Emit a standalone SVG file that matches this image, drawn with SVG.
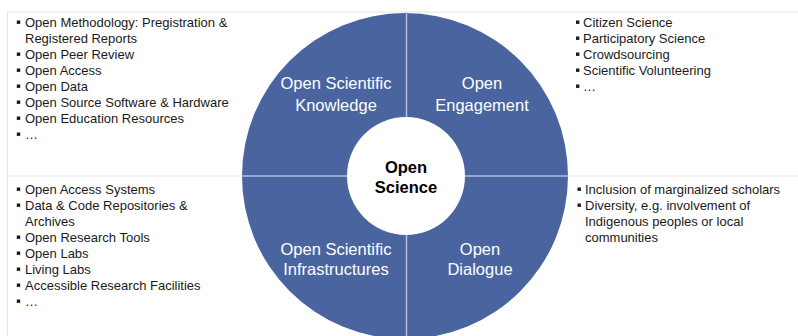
<svg xmlns="http://www.w3.org/2000/svg" width="798" height="336" viewBox="0 0 798 336">
<style>
.frame{stroke:#e6e6e6;stroke-width:1.2;fill:none}
.list{font-family:"Liberation Sans",Arial,sans-serif;font-size:13px;fill:#1a1a1a}
.b{fill:#1a1a1a}
.lbl{font-family:"Liberation Sans",Arial,sans-serif;font-size:16.5px;fill:#ffffff;text-anchor:middle}
.ctr{font-family:"Liberation Sans",Arial,sans-serif;font-size:16.5px;font-weight:bold;fill:#000;text-anchor:middle}
.div{stroke:#b4c0dc;stroke-width:1.5}
</style>
<rect width="798" height="336" fill="#ffffff"/>
<g id="frame">
<line class="frame" x1="7.5" y1="12" x2="798" y2="12"/>
<line class="frame" x1="7.5" y1="12" x2="7.5" y2="336"/>
<line class="frame" x1="7.5" y1="176" x2="798" y2="176"/>
</g>
<g id="circle">
<circle cx="405" cy="176" r="163" fill="#4a64a0"/>
</g>
<g id="connectors">
<line class="div" x1="406.5" y1="12" x2="406.5" y2="336"/>
<line class="div" x1="242" y1="176" x2="568" y2="176"/>
</g>
<g id="open-science">
<circle cx="406" cy="176" r="59" fill="#ffffff"/>
<text class="ctr" x="406" y="173">Open</text>
<text class="ctr" x="406" y="193">Science</text>
</g>
<g id="q-knowledge">
<text class="lbl" x="336" y="89">Open Scientific</text>
<text class="lbl" x="336" y="111">Knowledge</text>
</g>
<g id="q-engagement">
<text class="lbl" x="482" y="89">Open</text>
<text class="lbl" x="482" y="111">Engagement</text>
</g>
<g id="q-infrastructures">
<text class="lbl" x="336" y="255">Open Scientific</text>
<text class="lbl" x="336" y="275">Infrastructures</text>
</g>
<g id="q-dialogue">
<text class="lbl" x="480" y="255">Open</text>
<text class="lbl" x="480" y="275">Dialogue</text>
</g>
<g id="list-knowledge">
<rect class="b" x="16.8" y="20.5" width="3.4" height="3.4"/>
<text class="list" x="25" y="27">Open Methodology: Pregistration &amp;</text>
<text class="list" x="25" y="43">Registered Reports</text>
<rect class="b" x="16.8" y="52.5" width="3.4" height="3.4"/>
<text class="list" x="25" y="59">Open Peer Review</text>
<rect class="b" x="16.8" y="68.5" width="3.4" height="3.4"/>
<text class="list" x="25" y="75">Open Access</text>
<rect class="b" x="16.8" y="84.5" width="3.4" height="3.4"/>
<text class="list" x="25" y="91">Open Data</text>
<rect class="b" x="16.8" y="100.5" width="3.4" height="3.4"/>
<text class="list" x="25" y="107">Open Source Software &amp; Hardware</text>
<rect class="b" x="16.8" y="116.5" width="3.4" height="3.4"/>
<text class="list" x="25" y="123">Open Education Resources</text>
<rect class="b" x="16.8" y="132.5" width="3.4" height="3.4"/>
<text class="list" x="25" y="139">…</text>
</g>
<g id="list-engagement">
<rect class="b" x="576" y="20.5" width="3.4" height="3.4"/>
<text class="list" x="583" y="27">Citizen Science</text>
<rect class="b" x="576" y="36.5" width="3.4" height="3.4"/>
<text class="list" x="583" y="43">Participatory Science</text>
<rect class="b" x="576" y="52.5" width="3.4" height="3.4"/>
<text class="list" x="583" y="59">Crowdsourcing</text>
<rect class="b" x="576" y="68.5" width="3.4" height="3.4"/>
<text class="list" x="583" y="75">Scientific Volunteering</text>
<rect class="b" x="576" y="84.5" width="3.4" height="3.4"/>
<text class="list" x="583" y="91">…</text>
</g>
<g id="list-infrastructures">
<rect class="b" x="16.8" y="187.5" width="3.4" height="3.4"/>
<text class="list" x="25" y="194">Open Access Systems</text>
<rect class="b" x="16.8" y="203.5" width="3.4" height="3.4"/>
<text class="list" x="25" y="210">Data &amp; Code Repositories &amp;</text>
<text class="list" x="25" y="226">Archives</text>
<rect class="b" x="16.8" y="235.5" width="3.4" height="3.4"/>
<text class="list" x="25" y="242">Open Research Tools</text>
<rect class="b" x="16.8" y="251.5" width="3.4" height="3.4"/>
<text class="list" x="25" y="258">Open Labs</text>
<rect class="b" x="16.8" y="267.5" width="3.4" height="3.4"/>
<text class="list" x="25" y="274">Living Labs</text>
<rect class="b" x="16.8" y="283.5" width="3.4" height="3.4"/>
<text class="list" x="25" y="290">Accessible Research Facilities</text>
<rect class="b" x="16.8" y="299.5" width="3.4" height="3.4"/>
<text class="list" x="25" y="306">…</text>
</g>
<g id="list-dialogue">
<rect class="b" x="577.5" y="187.5" width="3.4" height="3.4"/>
<text class="list" x="585" y="194">Inclusion of marginalized scholars</text>
<rect class="b" x="577.5" y="203.5" width="3.4" height="3.4"/>
<text class="list" x="585" y="210">Diversity, e.g. involvement of</text>
<text class="list" x="585" y="226">Indigenous peoples or local</text>
<text class="list" x="585" y="242">communities</text>
</g>
</svg>
